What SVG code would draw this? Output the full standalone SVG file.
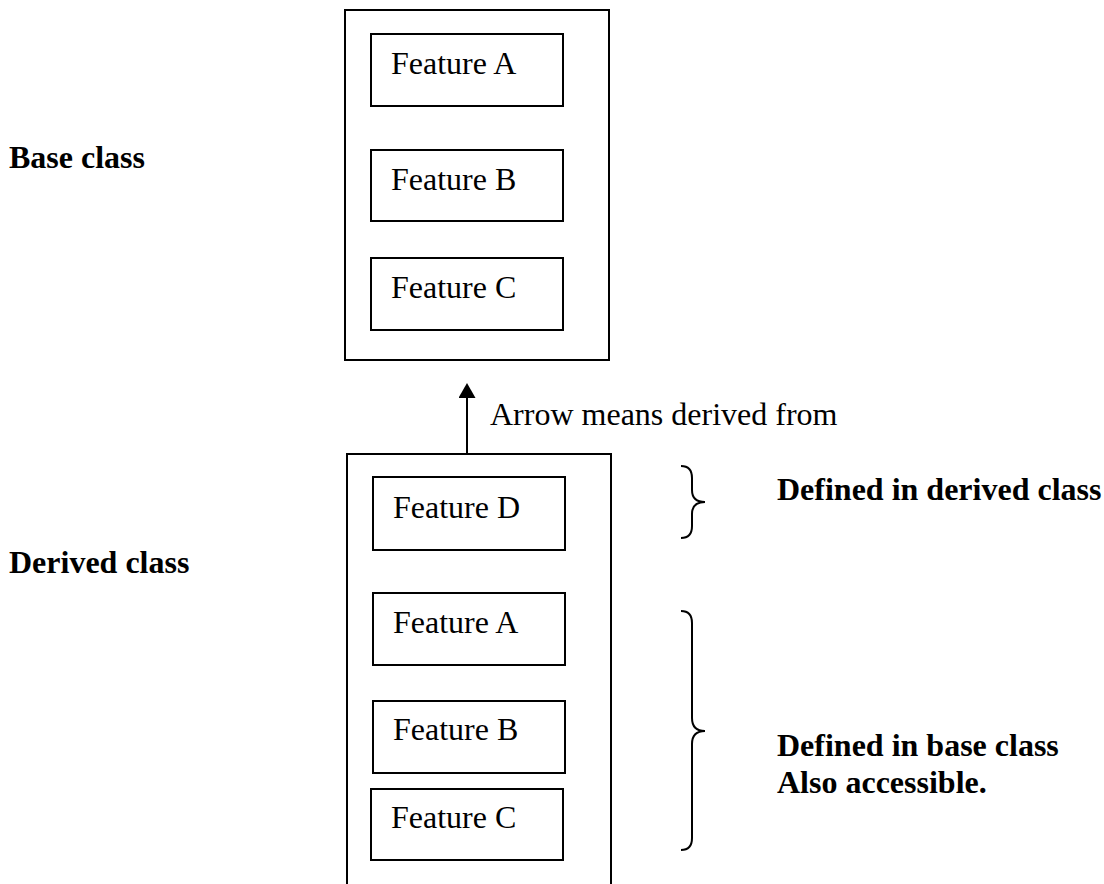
<svg xmlns="http://www.w3.org/2000/svg" width="1104" height="884" viewBox="0 0 1104 884">
  <style>
    .box { fill: #fff; stroke: #000; stroke-width: 2; }
    .feat { font-family: "Liberation Serif", "Times New Roman", serif; font-size: 32px; fill: #000; }
    .lbl { font-family: "Liberation Serif", "Times New Roman", serif; font-size: 32px; font-weight: bold; fill: #000; }
    .note { font-family: "Liberation Serif", "Times New Roman", serif; font-size: 32px; fill: #000; }
    .brace { fill: none; stroke: #000; stroke-width: 2; }
    .link { stroke: #000; stroke-width: 2; }
  </style>
  <defs>
    <!-- filled triangular head; tip sits 7px past the line end -->
    <marker id="arrowHead" markerWidth="15" markerHeight="17" refX="8" refY="8.5" orient="auto" markerUnits="userSpaceOnUse" viewBox="0 0 15 17">
      <path d="M0,0 L15,8.5 L0,17 Z" fill="#000"/>
    </marker>
  </defs>
  <rect width="1104" height="884" fill="#fff"/>

  <!-- Side labels -->
  <text class="lbl" x="9" y="168">Base class</text>
  <text class="lbl" x="9" y="573">Derived class</text>

  <!-- Base class -->
  <g id="base-class">
    <rect class="box" x="345" y="10" width="264" height="350"/>
    <g id="base-feature-a">
      <rect class="box" x="371" y="34" width="192" height="72"/>
      <text class="feat" x="391" y="74">Feature A</text>
    </g>
    <g id="base-feature-b">
      <rect class="box" x="371" y="150" width="192" height="71"/>
      <text class="feat" x="391" y="190">Feature B</text>
    </g>
    <g id="base-feature-c">
      <rect class="box" x="371" y="258" width="192" height="72"/>
      <text class="feat" x="391" y="298">Feature C</text>
    </g>
  </g>

  <!-- Derived class -->
  <g id="derived-class">
    <rect class="box" x="347" y="454" width="264" height="440"/>
    <g id="derived-feature-d">
      <rect class="box" x="373" y="477" width="192" height="73"/>
      <text class="feat" x="393" y="518">Feature D</text>
    </g>
    <g id="derived-feature-a">
      <rect class="box" x="373" y="593" width="192" height="72"/>
      <text class="feat" x="393" y="633">Feature A</text>
    </g>
    <g id="derived-feature-b">
      <rect class="box" x="373" y="701" width="192" height="72"/>
      <text class="feat" x="393" y="740">Feature B</text>
    </g>
    <g id="derived-feature-c">
      <rect class="box" x="371" y="789" width="192" height="71"/>
      <text class="feat" x="391" y="828">Feature C</text>
    </g>
  </g>

  <!-- Connectors: derived class points up to its base -->
  <g id="connectors">
    <line class="link" x1="467" y1="454" x2="467" y2="390" marker-end="url(#arrowHead)"/>
    <text class="note" x="490" y="425">Arrow means derived from</text>
  </g>

  <!-- Braces and annotations -->
  <g id="derived-note">
    <path class="brace" d="M681,466 Q692,466 692,478 L692,490 Q692,502 705,502 Q692,502 692,514 L692,526 Q692,538 681,538"/>
    <text class="lbl" x="777" y="500">Defined in derived class</text>
  </g>
  <g id="base-note">
    <path class="brace" d="M681,611 Q692,611 692,623 L692,718 Q692,731 705,731 Q692,731 692,744 L692,838 Q692,850 681,850"/>
    <text class="lbl" x="777" y="756">Defined in base class</text>
    <text class="lbl" x="777" y="793">Also accessible.</text>
  </g>
</svg>
